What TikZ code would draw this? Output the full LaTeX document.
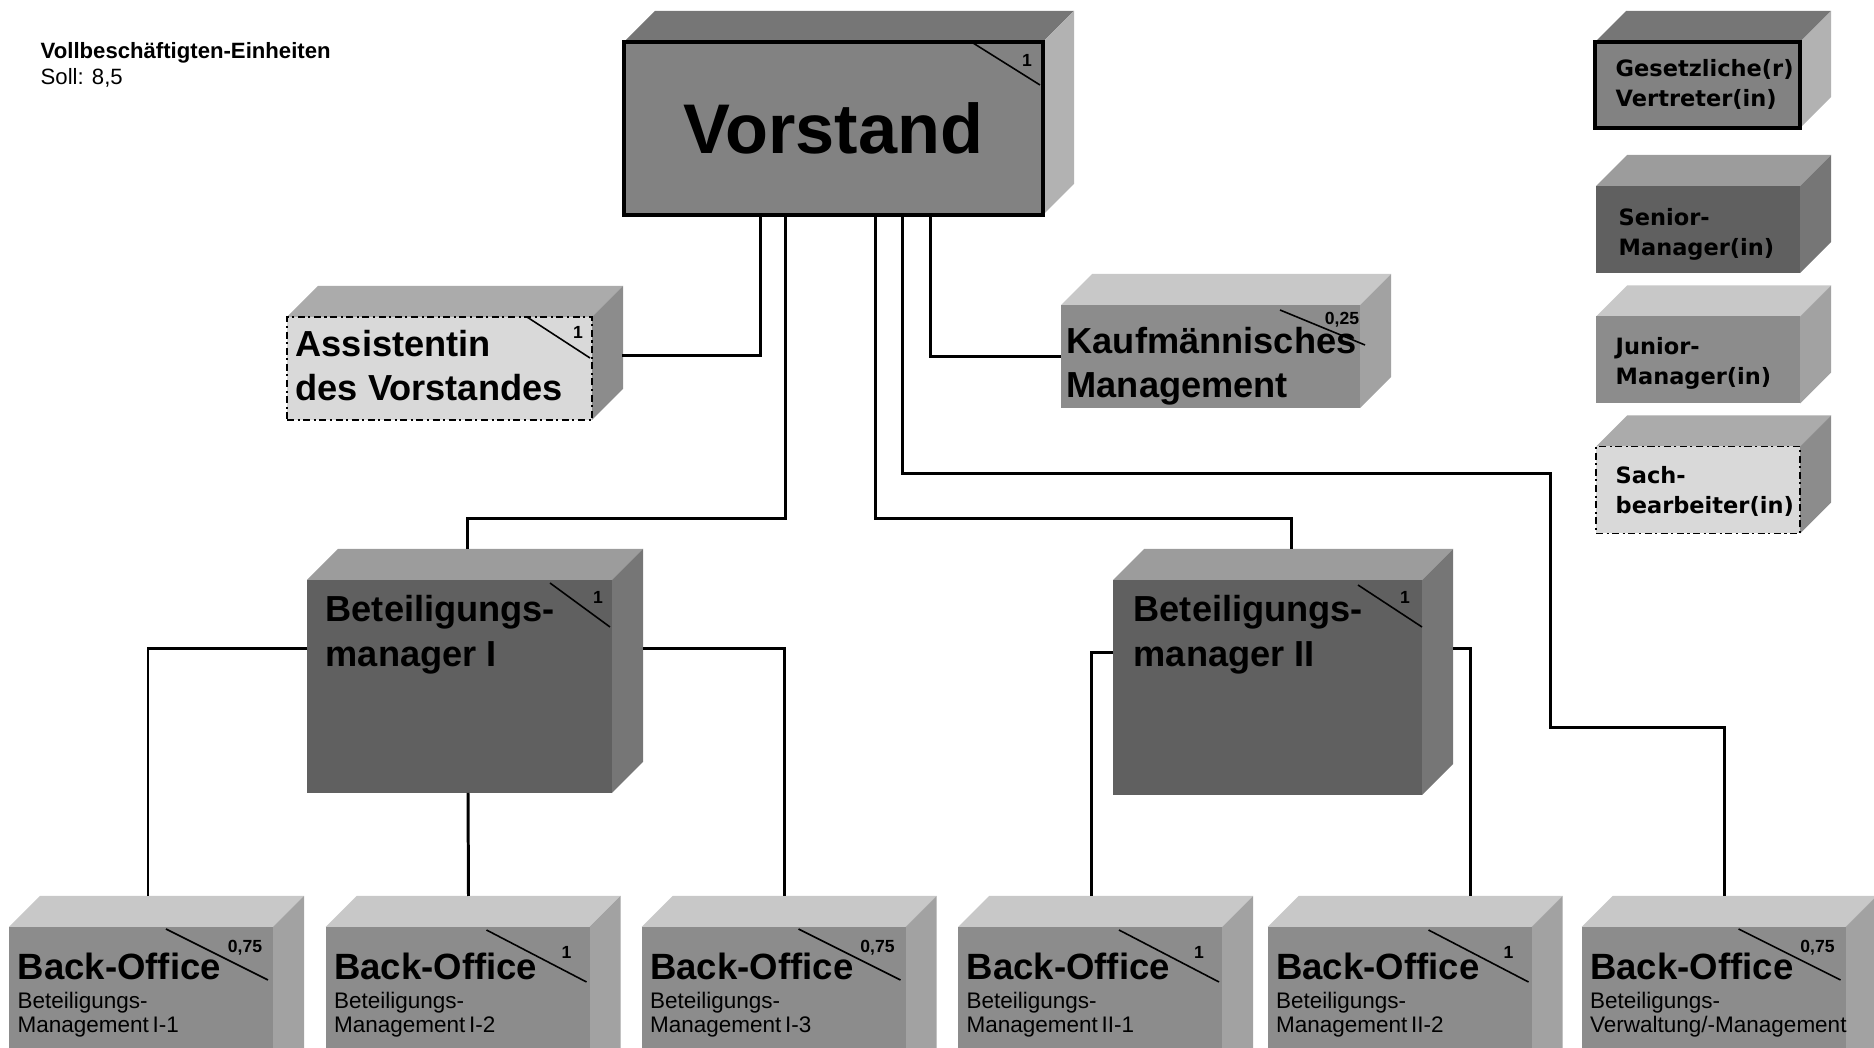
\documentclass[tikz,border=0pt]{standalone}
\usepackage{fontspec}
\setmainfont{Liberation Sans}
\newfontfamily\legendfont{DejaVu Sans}
\usetikzlibrary{backgrounds}
\definecolor{boardfront}{HTML}{828282}
\definecolor{boardtop}{HTML}{767676}
\definecolor{boardside}{HTML}{B2B2B2}
\definecolor{seniorfront}{HTML}{606060}
\definecolor{seniortop}{HTML}{9C9C9C}
\definecolor{seniorside}{HTML}{767676}
\definecolor{juniorfront}{HTML}{8C8C8C}
\definecolor{juniortop}{HTML}{C8C8C8}
\definecolor{juniorside}{HTML}{A2A2A2}
\definecolor{clerkfront}{HTML}{D9D9D9}
\definecolor{clerktop}{HTML}{ABABAB}
\definecolor{clerkside}{HTML}{8C8C8C}

\begin{document}
\begin{tikzpicture}[x=0.1mm,y=-0.1mm,
  front/.style={rectangle,inner sep=0pt,outer sep=0pt},
  board/.style={front,fill=boardfront,draw=black,line width=0.9pt},
  senior/.style={front,fill=seniorfront},
  junior/.style={front,fill=juniorfront},
  clerk/.style={front,fill=clerkfront,draw=black,line width=0.5pt,dash pattern=on 2pt off 1pt on 0.6pt off 1pt},
  bofront/.style={minimum width=26.4mm,minimum height=15.3mm},
  legendbox/.style={minimum width=20.4mm,minimum height=8.7mm},
  bigname/.style={font=\fontsize{10.3}{12.8}\selectfont\bfseries,align=left,anchor=north west,inner sep=0pt},
  boname/.style={font=\fontsize{10.4}{12}\selectfont\bfseries,anchor=north west,inner sep=0pt},
  bosub/.style={font=\fontsize{6.4}{6.8}\selectfont,align=left,anchor=north west,inner sep=0pt},
  legendtxt/.style={font=\legendfont\bfseries\fontsize{6.4}{8.5}\selectfont,align=left,anchor=north west,inner sep=0pt},
  share/.style={font=\fontsize{5}{6}\selectfont\bfseries,inner sep=0pt},
  slash/.style={draw=black,line width=0.45pt},
  conn/.style={draw=black,line width=0.85pt}
]
\useasboundingbox (0,0) rectangle (1874,1048);
\clip (0,0) rectangle (1874,1048);

% heading
\node[font=\fontsize{6.3}{7.3}\selectfont,align=left,anchor=north west,inner sep=0pt] (fte) at (40,42)
  {\textbf{Vollbeschäftigten-Einheiten}\\Soll: 8,5};

% front faces
\node[board,minimum width=41.9mm,minimum height=17.3mm,font=\fontsize{20}{24}\selectfont\bfseries] (vorstand) at (833.5,128.5) {Vorstand};
\node[clerk,minimum width=30.5mm,minimum height=10.3mm] (assist) at (439.5,368.5) {};
\node[junior,minimum width=29.9mm,minimum height=10.3mm] (kaufm) at (1210.5,356.5) {};
\node[senior,minimum width=30.5mm,minimum height=21.3mm] (bm1) at (459.5,686.5) {};
\node[senior,minimum width=30.9mm,minimum height=21.5mm] (bm2) at (1267.5,687.5) {};
\node[junior,bofront] (bo1) at (141,1003.5) {};
\node[junior,bofront] (bo2) at (457.5,1003.5) {};
\node[junior,bofront] (bo3) at (773.5,1003.5) {};
\node[junior,bofront] (bo4) at (1090,1003.5) {};
\node[junior,bofront] (bo5) at (1399.5,1003.5) {};
\node[junior,bofront] (bo6) at (1713.5,1003.5) {};

% legend
\node[board,minimum width=20.5mm,minimum height=8.6mm] (lgv) at (1697.5,85) {};
\node[senior,legendbox] (lsm) at (1698,229.5) {};
\node[junior,legendbox] (ljm) at (1698,360) {};
\node[clerk,legendbox] (lsb) at (1698,490) {};

% top and side faces
\begin{scope}[on background layer]
\foreach \n/\t/\s in {vorstand/boardtop/boardside,assist/clerktop/clerkside,kaufm/juniortop/juniorside,
    bm1/seniortop/seniorside,bm2/seniortop/seniorside,bo1/juniortop/juniorside,bo2/juniortop/juniorside,
    bo3/juniortop/juniorside,bo4/juniortop/juniorside,bo5/juniortop/juniorside,bo6/juniortop/juniorside,
    lgv/boardtop/boardside,lsm/seniortop/seniorside,ljm/juniortop/juniorside,lsb/clerktop/clerkside}{
  \fill[\t] (\n.north west) -- ++(31,-31) -- ([shift={(31,-31)}]\n.north east) -- (\n.north east) -- cycle;
  \fill[\s] (\n.north east) -- ++(31,-31) -- ([shift={(31,-31)}]\n.south east) -- (\n.south east) -- cycle;
}
\end{scope}

% labels
\node[bigname,font=\fontsize{10.3}{12.5}\selectfont\bfseries] (assisttxt) at ([shift={(8,13)}]assist.north west) {Assistentin\\des Vorstandes};
\node[bigname,font=\fontsize{10.3}{12.5}\selectfont\bfseries] (kaufmtxt) at ([shift={(5,22)}]kaufm.north west) {Kaufmännisches\\Management};
\node[bigname] (bm1txt) at ([shift={(18,15)}]bm1.north west) {Beteiligungs-\\manager I};
\node[bigname] (bm2txt) at ([shift={(20,15)}]bm2.north west) {Beteiligungs-\\manager II};

\node[boname] (bo1txt) at ([shift={(8,25)}]bo1.north west) {Back-Office};
\node[bosub] (bo1sub) at ([shift={(8,65)}]bo1.north west) {Beteiligungs-\\Management\,I-1};
\node[boname] (bo2txt) at ([shift={(8,25)}]bo2.north west) {Back-Office};
\node[bosub] (bo2sub) at ([shift={(8,65)}]bo2.north west) {Beteiligungs-\\Management\,I-2};
\node[boname] (bo3txt) at ([shift={(8,25)}]bo3.north west) {Back-Office};
\node[bosub] (bo3sub) at ([shift={(8,65)}]bo3.north west) {Beteiligungs-\\Management\,I-3};
\node[boname] (bo4txt) at ([shift={(8,25)}]bo4.north west) {Back-Office};
\node[bosub] (bo4sub) at ([shift={(8,65)}]bo4.north west) {Beteiligungs-\\Management\,II-1};
\node[boname] (bo5txt) at ([shift={(8,25)}]bo5.north west) {Back-Office};
\node[bosub] (bo5sub) at ([shift={(8,65)}]bo5.north west) {Beteiligungs-\\Management\,II-2};
\node[boname] (bo6txt) at ([shift={(8,25)}]bo6.north west) {Back-Office};
\node[bosub] (bo6sub) at ([shift={(8,65)}]bo6.north west) {Beteiligungs-\\Verwaltung/-Management};

\node[legendtxt] (lgvtxt) at ([shift={(20,17)}]lgv.north west) {Gesetzliche(r)\\Vertreter(in)};
\node[legendtxt] (lsmtxt) at ([shift={(22,22)}]lsm.north west) {Senior-\\Manager(in)};
\node[legendtxt] (ljmtxt) at ([shift={(19,20)}]ljm.north west) {Junior-\\Manager(in)};
\node[legendtxt] (lsbtxt) at ([shift={(19,19)}]lsb.north west) {Sach-\\bearbeiter(in)};

% capacity marks
\draw[slash] ([shift={(-70,1)}]vorstand.north east) -- ([shift={(-3,43)}]vorstand.north east);
\node[share] (vorstandshare) at ([shift={(-16,18)}]vorstand.north east) {1};
\draw[slash] ([shift={(-65,0)}]assist.north east) -- ([shift={(-2,41)}]assist.north east);
\node[share] (assistshare) at ([shift={(-14,15)}]assist.north east) {1};
\draw[slash] ([shift={(-80,5)}]kaufm.north east) -- ([shift={(5,40)}]kaufm.north east);
\node[share] (kaufmshare) at ([shift={(-18,15)}]kaufm.north east) {0,25};
\draw[slash] ([shift={(-62,3)}]bm1.north east) -- ([shift={(-2,47)}]bm1.north east);
\node[share] (bm1share) at ([shift={(-14,17)}]bm1.north east) {1};
\draw[slash] ([shift={(-64,5)}]bm2.north east) -- ([shift={(0,47)}]bm2.north east);
\node[share] (bm2share) at ([shift={(-17,17)}]bm2.north east) {1};
\draw[slash] ([shift={(-107,2)}]bo1.north east) -- ([shift={(-5,53)}]bo1.north east);
\node[share] (bo1share) at ([shift={(-28,21)}]bo1.north east) {0,75};
\draw[slash] ([shift={(-103,3)}]bo2.north east) -- ([shift={(-3,55)}]bo2.north east);
\node[share] (bo2share) at ([shift={(-23,25)}]bo2.north east) {1};
\draw[slash] ([shift={(-107,2)}]bo3.north east) -- ([shift={(-5,53)}]bo3.north east);
\node[share] (bo3share) at ([shift={(-28,21)}]bo3.north east) {0,75};
\draw[slash] ([shift={(-103,3)}]bo4.north east) -- ([shift={(-3,55)}]bo4.north east);
\node[share] (bo4share) at ([shift={(-23,25)}]bo4.north east) {1};
\draw[slash] ([shift={(-103,3)}]bo5.north east) -- ([shift={(-3,55)}]bo5.north east);
\node[share] (bo5share) at ([shift={(-23,25)}]bo5.north east) {1};
\draw[slash] ([shift={(-107,2)}]bo6.north east) -- ([shift={(-5,53)}]bo6.north east);
\node[share] (bo6share) at ([shift={(-28,21)}]bo6.north east) {0,75};

% connectors
\coordinate (bendvw) at (1550,728);
\draw[conn] ([xshift=13.6mm]vorstand.south west) |- ([shift={(30,39)}]assist.north east);
\draw[conn] ([xshift=30.6mm]vorstand.south west) |- (kaufm.west);
\draw[conn] ([xshift=16.1mm]vorstand.south west) -- ++(0,304) -| ([shift={(8,-31)}]bm1.north);
\draw[conn] ([xshift=25.1mm]vorstand.south west) -- ++(0,304) -| ([shift={(23.5,-31)}]bm2.north);
\draw[conn] ([xshift=27.8mm]vorstand.south west) -- ++(0,259) -| (bendvw) -| ([shift={(10.5,-31)}]bo6.north);
\draw[conn] ([yshift=-6.9mm]bm1.north west) -| ([shift={(7,-31)}]bo1.north);
\draw[conn] ([xshift=0.85mm]bm1.south) -- ([shift={(11,-31)}]bo2.north);
\draw[conn] ([shift={(31,69)}]bm1.north east) -| ([shift={(10.5,-31)}]bo3.north);
\draw[conn] ([shift={(0,73)}]bm2.north west) -| ([shift={(1,-31)}]bo4.north);
\draw[conn] ([shift={(31,69)}]bm2.north east) -| ([shift={(70.5,-31)}]bo5.north);

\end{tikzpicture}
\end{document}
